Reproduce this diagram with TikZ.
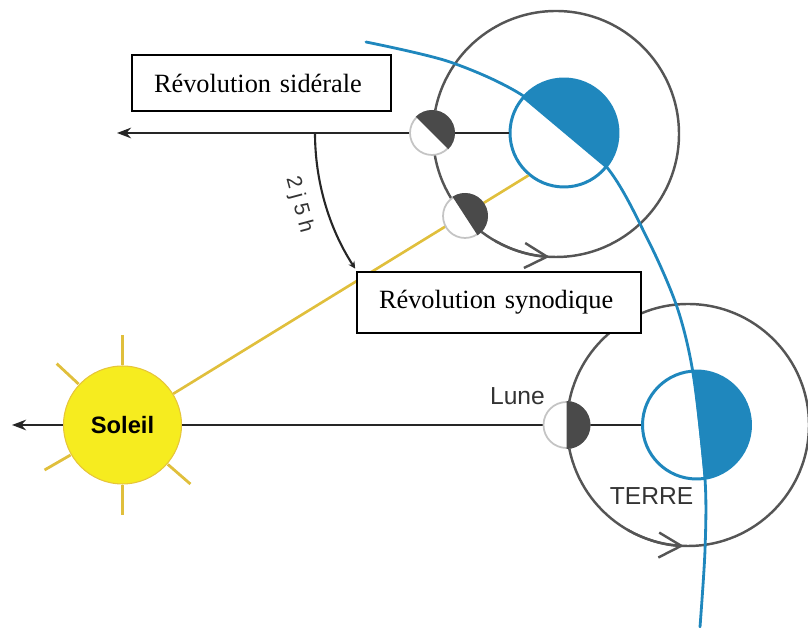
\documentclass[tikz,border=0pt]{standalone}
\usepackage{fontspec}
\setmainfont{Liberation Serif}
\newfontfamily\sansfont{Liberation Sans}
\usetikzlibrary{arrows.meta}

\definecolor{bleuterre}{HTML}{1F87BD}
\definecolor{grisorbite}{HTML}{555555}
\definecolor{lunesombre}{HTML}{4A4A4A}
\definecolor{lunebord}{HTML}{C4C4C4}
\definecolor{jaunesoleil}{HTML}{F6EC1F}
\definecolor{bordsoleil}{HTML}{E6C53A}
\definecolor{rayonjaune}{HTML}{E0BF3C}

\tikzset{
  terre/.style={circle, draw=bleuterre, line width=1.7pt, fill=white, minimum size=2.16cm, inner sep=0pt},
  lune/.style={circle, draw=lunebord, line width=1pt, fill=white, minimum size=0.88cm, inner sep=0pt},
  orbite/.style={draw=grisorbite, line width=1.4pt},
  trait/.style={draw=black!85, line width=1.4pt},
  fleche/.style={trait, -{Stealth[length=8pt, width=6pt]}},
  etiquette/.style={text=black!80, font=\sansfont\fontsize{14}{16}\selectfont},
  boite/.style={draw, line width=0.9pt, fill=white, align=left, inner xsep=0.44cm, font=\fontsize{15}{18}\selectfont}
}

\begin{document}
\begin{tikzpicture}[x=0.02cm, y=0.02cm]
    \useasboundingbox (0,0) rectangle (808,628);

    % 月の軌道の中心と矢印の先
    \coordinate (O1) at (556,494);
    \coordinate (O2) at (688,203);
    \coordinate (F1) at (117,495);
    \coordinate (F2) at (12,203);

    % 月の軌道 (灰色の円)
    \draw[orbite] (O1) circle (123);
    \draw[orbite] (O2) circle (121);
    \draw[orbite, -{Straight Barb[length=4.5mm, width=5mm]}] (O1) ++(240:123) arc (240:267:123);
    \draw[orbite, -{Straight Barb[length=4.5mm, width=5mm]}] (O2) ++(240:121) arc (240:268:121);

    % 地球 (影の半分は濃い青)
    \node[terre] (T1) at (564,495) {};
    \node[terre] (T2) at (696.5,203) {};
    \fill[bleuterre] (T1.center) ++(140:54) arc (140:-40:54) -- cycle;
    \fill[bleuterre] (T2.center) ++(94:54) arc (94:-82:54) -- cycle;

    % 太陽と光線
    \foreach \a in {90,137,210,270,319}
        \draw[rayonjaune, line width=1.6pt] (122.5,203) ++(\a:60) -- ++(\a:30);
    \node[circle, fill=jaunesoleil, draw=bordsoleil, line width=0.6pt, minimum size=2.36cm, inner sep=0pt,
          font=\sansfont\bfseries\fontsize{13.5}{16}\selectfont] (S) at (122.5,203) {Soleil};

    % 方向の線
    \draw[fleche] (T1) -- (F1);
    \draw[trait] (T2) -- (S);
    \draw[fleche] (S) -- (F2);
    \draw[draw=rayonjaune, line width=1.5pt] (S) -- (T1.230);

    % 2 j 5 h の弧 (中心は上の地球)
    \draw[trait, line width=1.2pt, -{Stealth[length=4pt, width=4pt]}] (T1.center) ++(180:249) arc (180:213:249);
    \node[text=black!80, font=\sansfont\fontsize{12}{14}\selectfont, rotate=-75] (D) at (299,423) {2 j 5 h};

    % 月 (影の半分は濃い灰色)
    \node[lune] (L1) at (432,495) {};
    \node[lune] (L2) at (465,412) {};
    \node[lune, minimum size=0.92cm] (L3) at (566.5,203) {};
    \fill[lunesombre] (L1.center) ++(135:23) arc (135:-45:23) -- cycle;
    \fill[lunesombre] (L2.center) ++(123:23) arc (123:-57:23) -- cycle;
    \fill[lunesombre] (L3.center) ++(90:24) arc (90:-90:24) -- cycle;

    % 地球の軌道 (青い曲線)
    \draw[bleuterre, line width=1.6pt, line cap=round] plot[smooth] coordinates
        {(366,586) (450,566) (525,531) (605,463) (648,388) (677,321) (693,255) (705,149) (705,78) (700,1)};

    % ラベル
    \node[etiquette] (Lune) at (517.5,232) {Lune};
    \node[etiquette] (TERRE) at (651.5,132) {TERRE};

    % 説明の枠
    \node[boite, text width=4.30cm, minimum height=1.12cm] (B1) at (261.5,545) {Révolution sidérale};
    \node[boite, text width=4.80cm, minimum height=1.22cm] (B2) at (499,325.5) {Révolution synodique};
\end{tikzpicture}
\end{document}
